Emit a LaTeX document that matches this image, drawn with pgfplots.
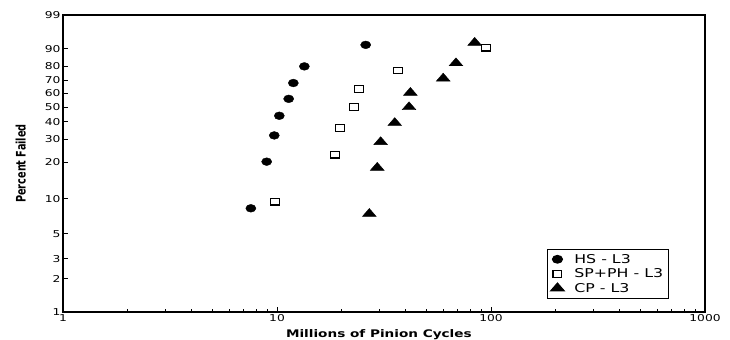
\documentclass[border=0pt]{standalone}
\usepackage{graphicx}
\usepackage{pgfplots}
\pgfplotsset{compat=1.18}
\usepackage{fontspec}
\setmainfont{DejaVu Sans}[FakeStretch=1.3]
\newfontfamily\plainfont{DejaVu Sans}

% Median-rank failure data (percent failed vs. millions of cycles)
\pgfplotstableread{
x     p
7.55  8.3
8.95  20.2
9.71  32.1
10.25 44.0
11.34 56.0
11.92 67.9
13.42 79.8
25.97 91.7
}\hsdata
\pgfplotstableread{
x     p
9.82  9.46
18.66 22.97
19.63 36.5
22.9  50.0
24.09 63.5
36.8  77.0
94.8  90.5
}\spdata
\pgfplotstableread{
x     p
27.0  7.45
29.4  18.1
30.5  28.7
35.5  39.4
41.4  50.0
42.0  60.6
59.8  71.3
68.6  81.9
83.9  92.6
}\cpdata

\begin{document}
\begin{tikzpicture}
\path[use as bounding box] (0,0) rectangle (730bp,340bp);
\begin{axis}[
  at={(63bp,28bp)}, anchor=south west,
  scale only axis, width=642bp, height=297bp,
  xmode=log, xmin=1, xmax=1000,
  xtick={1,10,100,1000}, xticklabels={1,10,100,1000},
  ymin=1, ymax=99,
  % Weibull probability scale
  y coord trafo/.code={\pgfmathparse{ln(-ln(1-#1/100))}},
  ytick={1,2,3,5,10,20,30,40,50,60,70,80,90,99},
  yticklabels={1,2,3,5,10,20,30,40,50,60,70,80,90,99},
  tick pos=left, tick align=inside,
  major tick length=5bp, minor tick length=3.5bp,
  tick style={black, line width=0.9pt},
  axis line style={line width=1.2pt},
  ticklabel style={font=\fontsize{9.5}{11}\selectfont},
  xticklabel style={yshift=1bp},
  yticklabel style={xshift=1bp},
  xlabel={Millions of Pinion Cycles},
  xlabel style={at={(rel axis cs:0.492,0)}, anchor=base, yshift=-25bp,
    font=\fontsize{10.5}{12}\selectfont\bfseries},
  ylabel={\scalebox{1}[1.35]{\plainfont\bfseries\fontsize{9.75}{11}\selectfont Percent Failed}},
  ylabel style={at={(axis description cs:-0.066,0.5)}, anchor=center},
  legend style={at={(rel axis cs:0.754,0.212)}, anchor=north west,
    draw=black, line width=1pt, font=\fontsize{12.2}{13}\selectfont,
    inner xsep=3bp, inner ysep=2.5bp, row sep=0bp,
    /tikz/every odd column/.style={column sep=8bp}},
  legend cell align=left,
]
\addplot[only marks, mark=*, mark size=3.9bp, mark options={xscale=1.3, fill=black}]
  table[x=x, y=p] {\hsdata};
\addlegendentry{HS - L3}
\addplot[only marks, mark=square, mark size=3.4bp, mark options={xscale=1.3, line width=1.1pt, black}]
  table[x=x, y=p] {\spdata};
\addlegendentry{SP+PH - L3}
\addplot[only marks, mark=triangle*, mark size=5.3bp, mark options={xscale=1.5, fill=black}]
  table[x=x, y=p] {\cpdata};
\addlegendentry{CP - L3}
\end{axis}
\end{tikzpicture}
\end{document}
